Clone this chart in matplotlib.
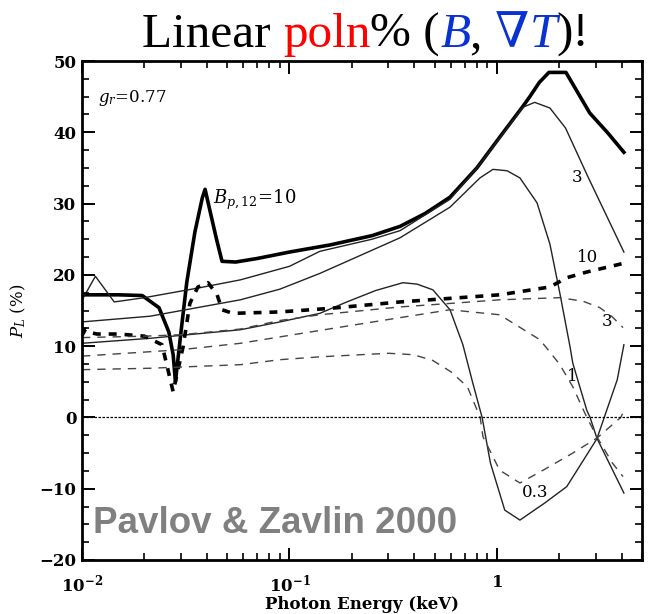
import matplotlib
matplotlib.use('Agg')
import matplotlib.pyplot as plt
from matplotlib.ticker import FixedLocator, MultipleLocator, LogLocator, NullFormatter

# photon energy (keV) and linear polarization P_L (%)
# solid curves
e_s10 = [0.01, 0.015, 0.0195, 0.0235, 0.0262, 0.0275, 0.0282, 0.0300, 0.0320, 0.0350, 0.0380,
         0.0392, 0.0410, 0.0445, 0.0473, 0.055, 0.07, 0.1, 0.157, 0.25, 0.341, 0.45, 0.594, 0.8,
         1.03, 1.33, 1.44, 1.60, 1.78, 2.15, 2.8, 3.4, 4.09]
p_s10 = [17.2, 17.2, 17.1, 15.4, 12.0, 8.8, 5.0, 12.0, 19.0, 26.0, 30.8,
         32.0, 29.5, 25.0, 21.9, 21.8, 22.3, 23.2, 24.2, 25.5, 26.8, 28.6, 30.9, 35.0,
         39.3, 43.6, 45.0, 47.0, 48.4, 48.4, 42.7, 40.0, 37.2]

e_s3 = [0.0102, 0.0116, 0.0143, 0.02, 0.037, 0.058, 0.1, 0.14, 0.25, 0.341, 0.594, 0.8,
        1.03, 1.33, 1.52, 1.8, 2.14, 2.75, 4.09]
p_s3 = [16.9, 19.8, 16.2, 16.8, 18.2, 19.3, 21.2, 23.3, 25.0, 26.2, 30.6, 35.0,
        39.2, 43.5, 44.2, 43.4, 40.6, 33.7, 23.2]

e_s1 = [0.01, 0.0213, 0.058, 0.09, 0.14, 0.341, 0.594, 0.828, 0.957, 1.12, 1.29, 1.56,
        1.8, 2.01, 2.25, 2.32, 2.71, 2.81, 3.03, 4.09]
p_s1 = [13.4, 14.2, 16.5, 18.0, 20.2, 25.2, 29.5, 33.6, 34.8, 34.6, 33.6, 30.1,
        24.3, 17.4, 9.9, 7.6, 1.0, 0.0, -2.9, -10.6]

e_s03 = [0.01, 0.0213, 0.058, 0.09, 0.14, 0.189, 0.26, 0.352, 0.412, 0.491, 0.594, 0.685,
         0.765, 0.848, 0.93, 1.09, 1.29, 1.70, 2.17, 3.03, 3.8, 4.09]
p_s03 = [10.4, 11.1, 12.3, 13.4, 14.6, 16.2, 17.8, 18.9, 18.7, 17.9, 15.1, 10.2,
         4.8, 0.0, -6.4, -13.0, -14.4, -12.0, -9.7, -3.0, 5.3, 10.2]

# dashed curves
e_d10 = [0.01, 0.0104, 0.0110, 0.0118, 0.015, 0.02, 0.0243, 0.0275, 0.0307, 0.0331, 0.0362,
         0.0405, 0.0448, 0.0473, 0.0534, 0.09, 0.157, 0.341, 1.03, 1.8, 2.17, 2.71, 4.05]
p_d10 = [11.5, 12.4, 11.9, 11.7, 11.7, 11.4, 10.2, 3.6, 9.9, 16.0, 18.3,
         18.9, 17.2, 15.1, 14.6, 14.8, 15.3, 16.2, 17.2, 18.3, 19.6, 20.4, 21.6]

e_d3 = [0.01, 0.02, 0.03, 0.058, 0.09, 0.14, 0.341, 0.6, 1.03, 2.01, 2.6, 3.13, 3.6, 4.05]
p_d3 = [11.2, 11.4, 11.6, 12.4, 13.6, 14.4, 15.5, 16.0, 16.5, 16.8, 16.3, 15.4, 14.1, 12.6]

e_d1 = [0.01, 0.03, 0.058, 0.09, 0.14, 0.341, 0.594, 1.03, 1.61, 2.0, 2.32, 2.71, 3.03, 3.6, 4.05]
p_d1 = [8.6, 9.5, 10.4, 11.3, 12.2, 14.0, 15.1, 14.4, 10.9, 7.5, 4.3, 0.0, -2.7, -6.4, -8.3]

e_d03 = [0.01, 0.0213, 0.058, 0.09, 0.14, 0.3, 0.395, 0.49, 0.6, 0.72, 0.83, 0.856, 1.03,
         1.29, 1.67, 2.32, 3.03, 3.95, 4.1]
p_d03 = [6.7, 6.9, 7.4, 8.1, 8.5, 9.0, 8.8, 8.0, 6.4, 4.3, 0.0, -2.7, -7.4,
         -9.2, -7.4, -5.0, -2.9, 0.0, 1.0]

# curve labels: text, energy, P_L
curve_labels = [("3", 2.43, 33.7), ("10", 2.72, 22.4), ("3", 3.39, 13.4),
                ("1", 2.30, 5.7), ("0.3", 1.52, -10.6)]

x_ticks = [0.01, 0.1, 1]
x_ticklabels = [r'$\mathbf{10^{-2}}$', r'$\mathbf{10^{-1}}$', r'$\mathbf{1}$']
y_ticks = [-20, -10, 0, 10, 20, 30, 40, 50]

plt.rcParams['font.family'] = ['DejaVu Serif']
plt.rcParams['mathtext.fontset'] = 'dejavuserif'

rect = [82 / 650, 1 - 560 / 614, 560 / 650, 499 / 614]
fig = plt.figure(figsize=(6.5, 6.14), dpi=100)
ax = fig.add_axes(rect)
ax.set_xscale('log')
ax.set_xlim(0.01, 5.0)
ax.set_ylim(-20, 50)

ax.plot(e_s10, p_s10, color='black', lw=2.6, solid_joinstyle='round')
ax.plot(e_s3, p_s3, color='#222222', lw=1.0)
ax.plot(e_s1, p_s1, color='#222222', lw=1.0)
ax.plot(e_s03, p_s03, color='#222222', lw=1.0)
ax.plot(e_d10, p_d10, color='black', lw=2.6, ls=(0, (2.2, 2.2)))
for e, p in [(e_d3, p_d3), (e_d1, p_d1), (e_d03, p_d03)]:
    ax.plot(e, p, color='#444444', lw=1.0, ls=(0, (6, 5)))
ax.axhline(0, color='black', lw=0.9, ls=(0, (2, 1.2)))

for txt, e, p in curve_labels:
    ax.text(e, p, txt, fontsize=12, ha='center', va='center')

ax.text(0.029, 0.926, r'$g_r$=0.77', transform=ax.transAxes, fontsize=12,
        ha='left', va='center')
ax.text(0.0428, 30.5, r'$B_{p,12}$=10', fontsize=13, ha='left', va='center')

ax.text(0.0196, 0.054, 'Pavlov & Zavlin 2000', transform=ax.transAxes,
        fontsize=26.5, color='#808080', fontweight='bold', family='Liberation Sans',
        ha='left', va='baseline')
ax.tick_params(which='both', length=0, labelbottom=False, labelleft=False)
for sp in ax.spines.values():
    sp.set_visible(False)

# frame, ticks and axis labels on a transparent overlay with the same scales
fr = fig.add_axes(rect, facecolor='none')
fr.set_xscale('log')
fr.set_xlim(ax.get_xlim())
fr.set_ylim(ax.get_ylim())
fr.xaxis.set_major_locator(FixedLocator(x_ticks))
fr.xaxis.set_minor_locator(LogLocator(base=10, subs=range(2, 10)))
fr.xaxis.set_minor_formatter(NullFormatter())
fr.set_xticklabels(x_ticklabels)
fr.yaxis.set_major_locator(FixedLocator(y_ticks))
fr.yaxis.set_minor_locator(MultipleLocator(2.5))
fr.tick_params(axis='both', which='major', direction='in', length=9, width=1.4,
               top=True, right=True, labelsize=12, pad=4)
fr.tick_params(axis='both', which='minor', direction='in', length=5, width=1.2,
               top=True, right=True)
fr.tick_params(axis='x', which='major', pad=10)
for lab in fr.get_yticklabels():
    lab.set_fontweight('bold')
for sp in fr.spines.values():
    sp.set_linewidth(2)

fr.set_xlabel('Photon Energy (keV)', fontsize=12, fontweight='bold')
fr.xaxis.set_label_coords(0.5, -0.072)
fr.set_ylabel(r'$P_L$ (%)', fontsize=12)
fr.yaxis.set_label_coords(-0.096, 0.5)

# title with coloured pieces, each placed where the previous one ends
blue = '#0a32d2'
pieces = [("Linear ", 'black', 'normal'), ("poln", 'red', 'normal'),
          ("% (", 'black', 'normal'), ("B", blue, 'italic'), (", ", 'black', 'normal'),
          ("\u2207", blue, 'normal'), ("T", blue, 'italic'), (")!", 'black', 'normal')]
title_font = ['Liberation Serif', 'DejaVu Serif']
renderer = fig.canvas.get_renderer()
x = 142
for s, c, st in pieces:
    t = fig.text(x / 650, 1 - 47 / 614, s, color=c, style=st, fontsize=35.5,
                 family=title_font, ha='left', va='baseline')
    x += t.get_window_extent(renderer).width

fig.savefig('out.png', dpi=100)
